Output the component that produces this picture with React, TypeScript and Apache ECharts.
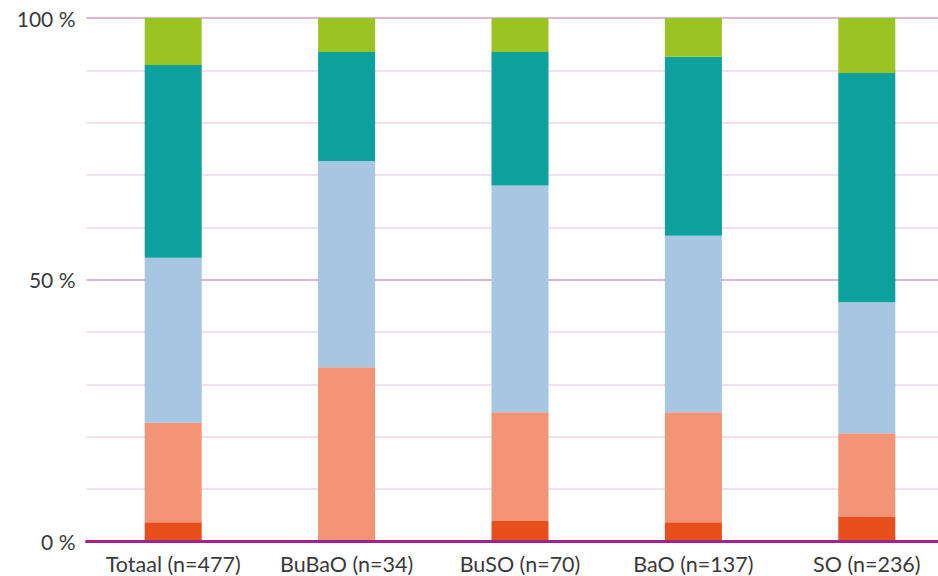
import React, { useEffect, useRef } from "react";
import * as echarts from "echarts";

const categories = ["Totaal (n=477)", "BuBaO (n=34)", "BuSO (n=70)", "BaO (n=137)", "SO (n=236)"];
const seriesRed = [3.7, 0, 3.9, 3.7, 4.7];
const seriesSalmon = [19.0, 33.3, 20.8, 21.0, 16.0];
const seriesBlue = [31.5, 39.4, 43.3, 33.7, 25.0];
const seriesTeal = [36.8, 20.8, 25.5, 34.2, 43.8];
const seriesGreen = [9.0, 6.5, 6.5, 7.4, 10.5];
const yTickLabels = [0, 50, 100];

const colors = ["#E84F1C", "#F29476", "#A6C6E2", "#0DA19D", "#9BC321"];
const MAJOR = "#DDB5D9";
const MINOR = "#F1E0EE";
const FONT = "Lato";

export default function App() {
  const ref = useRef<HTMLDivElement>(null);
  useEffect(() => {
    if (!ref.current) return;
    const chart = echarts.init(ref.current, undefined, { renderer: "svg" });
    const all = [seriesRed, seriesSalmon, seriesBlue, seriesTeal, seriesGreen];
    chart.setOption({
      animation: false,
      grid: { left: 86.5, top: 18, width: 867, height: 523.5, containLabel: false },
      xAxis: {
        type: "category",
        data: categories,
        axisTick: { show: false },
        axisLine: { show: true, lineStyle: { color: "#A3228D", width: 3 } },
        axisLabel: {
          interval: 0,
          hideOverlap: false,
          color: "#3a3a3a",
          fontFamily: FONT,
          fontSize: 21.5,
          fontWeight: 400,
          margin: 11,
        },
        z: 5,
      },
      yAxis: {
        type: "value",
        min: 0,
        max: 100,
        interval: 10,
        axisLine: { show: false },
        axisTick: { show: false },
        splitLine: {
          show: true,
          showMinLine: true,
          lineStyle: { width: 2, color: [MAJOR, MINOR, MINOR, MINOR, MINOR] },
        },
        axisLabel: {
          color: "#3a3a3a",
          fontFamily: FONT,
          fontSize: 21,
          fontWeight: 400,
          margin: 11,
          formatter: (v: number) => (yTickLabels.includes(v) ? `${v} %` : ""),
        },
      },
      series: all.map((d, i) => ({
        type: "bar",
        stack: "total",
        data: d,
        barWidth: 57,
        itemStyle: { color: colors[i] },
      })),
    });
    return () => chart.dispose();
  }, []);
  return (
    <div style={{ position: "fixed", left: 0, top: 0, width: 938, height: 576, overflow: "hidden", background: "#fff" }}>
      <div ref={ref} style={{ width: 970, height: 576 }} />
    </div>
  );
}
